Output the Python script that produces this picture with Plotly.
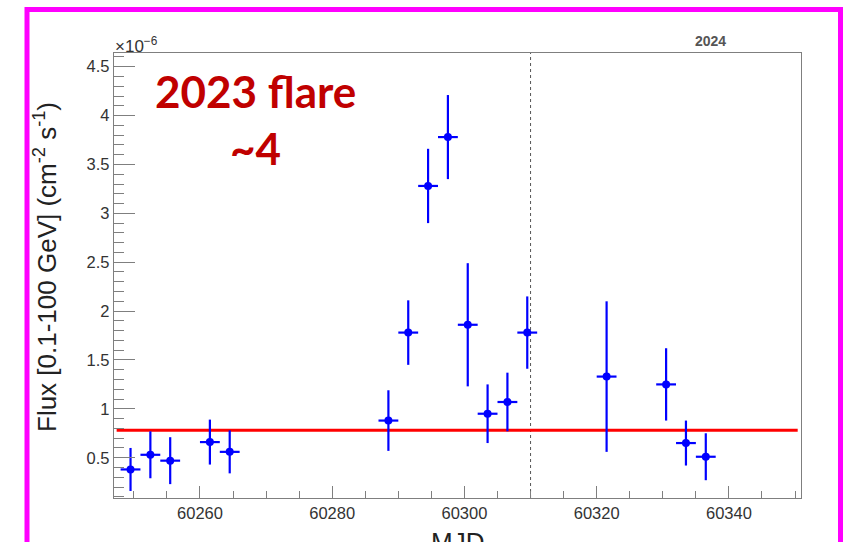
import plotly.graph_objects as go

# ---- data (flux in units of 1e-6 cm^-2 s^-1) ----
mjd = [60249.5, 60252.5, 60255.5, 60261.5, 60264.5, 60288.5, 60291.5, 60294.5,
       60297.5, 60300.5, 60303.5, 60306.5, 60309.5, 60321.5, 60330.5, 60333.5, 60336.5]
mjd_halfbin = [1.5] * len(mjd)
flux_e6 = [0.38, 0.53, 0.47, 0.66, 0.56, 0.88, 1.78, 3.28,
           3.78, 1.86, 0.95, 1.07, 1.78, 1.33, 1.25, 0.65, 0.51]
flux_err_e6 = [0.22, 0.24, 0.24, 0.23, 0.22, 0.31, 0.33, 0.38,
               0.43, 0.63, 0.30, 0.30, 0.37, 0.77, 0.37, 0.23, 0.24]
mean_flux_e6 = 0.78
year_boundary_mjd = 60310
x_range = [60247.0, 60350.9]
y_range = [0.088, 4.64]
line_range = [60247.4, 60350.4]

# ---- layout geometry ----
W, H = 853, 542
L, R, T, B = 114, 52, 53, 44
pw, ph = W - L - R, H - T - B


def px(x):
    return (x - L) / pw


def py(y):
    return (H - B - y) / ph


AX = "#7f7f7f"
TXT = "#333333"
FONT = "Liberation Sans, Arial, sans-serif"

fig = go.Figure()

fig.add_trace(go.Scatter(
    x=mjd, y=flux_e6, mode="markers",
    marker=dict(color="#0000ff", size=8),
    error_x=dict(type="data", array=mjd_halfbin, color="#0000ff", thickness=2.2, width=0),
    error_y=dict(type="data", array=flux_err_e6, color="#0000ff", thickness=2.2, width=0),
    showlegend=False,
))

fig.add_shape(type="line", xref="x", yref="y",
              x0=line_range[0], x1=line_range[1], y0=mean_flux_e6, y1=mean_flux_e6,
              line=dict(color="#ff0000", width=3), layer="below")
fig.add_shape(type="line", xref="x", yref="paper",
              x0=year_boundary_mjd, x1=year_boundary_mjd, y0=0, y1=1,
              line=dict(color="#555555", width=1, dash="dot"), layer="below")

# magenta frame around the slide region
fig.add_shape(type="rect", xref="paper", yref="paper",
              x0=px(27), x1=px(840.5), y0=py(9.5), y1=py(570),
              line=dict(color="#ff00ff", width=5))

fig.update_layout(
    width=W, height=H,
    margin=dict(l=L, r=R, t=T, b=B),
    paper_bgcolor="white", plot_bgcolor="white",
    font=dict(family=FONT, color=TXT, size=16),
    xaxis=dict(range=x_range, showgrid=False, zeroline=False,
               showline=True, linecolor=AX, linewidth=1.3, mirror=True,
               ticks="inside", ticklen=12, tickcolor=AX, tickwidth=1.2,
               tick0=60260, dtick=20, tickformat="d",
               tickfont=dict(size=16.5, color=TXT, family=FONT),
               minor=dict(ticks="inside", ticklen=7, dtick=5, tick0=60260,
                          tickcolor=AX, tickwidth=1.2, showgrid=False)),
    yaxis=dict(range=y_range, showgrid=False, zeroline=False,
               showline=True, linecolor=AX, linewidth=1.3, mirror=True,
               ticks="inside", ticklen=21, tickcolor=AX, tickwidth=1.2,
               tick0=0, dtick=0.5,
               tickfont=dict(size=16.5, color=TXT, family=FONT),
               minor=dict(ticks="inside", ticklen=10, dtick=0.1, tick0=0,
                          tickcolor=AX, tickwidth=1.2, showgrid=False)),
)

ann = [
    dict(text="Flux [0.1-100 GeV] (cm<sup>-2</sup> s<sup>-1</sup>)", x=px(45), y=py(267),
         textangle=-90, font=dict(size=26, color="#222222", family=FONT),
         xanchor="center", yanchor="middle"),
    dict(text="MJD", x=0.5, y=py(525), font=dict(size=26, color="#222222", family=FONT),
         xanchor="center", yanchor="top"),
    dict(text="×10<sup>−6</sup>", x=-0.002, y=py(45), font=dict(size=17, color=TXT, family=FONT),
         xanchor="left", yanchor="middle"),
    dict(text="2024", x=px(710), y=py(41), font=dict(size=14, color="#555555", family=FONT, weight="bold"),
         xanchor="center", yanchor="middle"),
    dict(text="2023 flare", x=px(255), y=py(91), font=dict(size=44, color="#c00000", family="Lato", weight="bold"),
         xanchor="center", yanchor="middle"),
    dict(text="~4", x=px(255), y=py(148), font=dict(size=44, color="#c00000", family="Lato", weight="bold"),
         xanchor="center", yanchor="middle"),
]
for a in ann:
    fig.add_annotation(xref="paper", yref="paper", showarrow=False, **a)

fig.write_html("out.html")
